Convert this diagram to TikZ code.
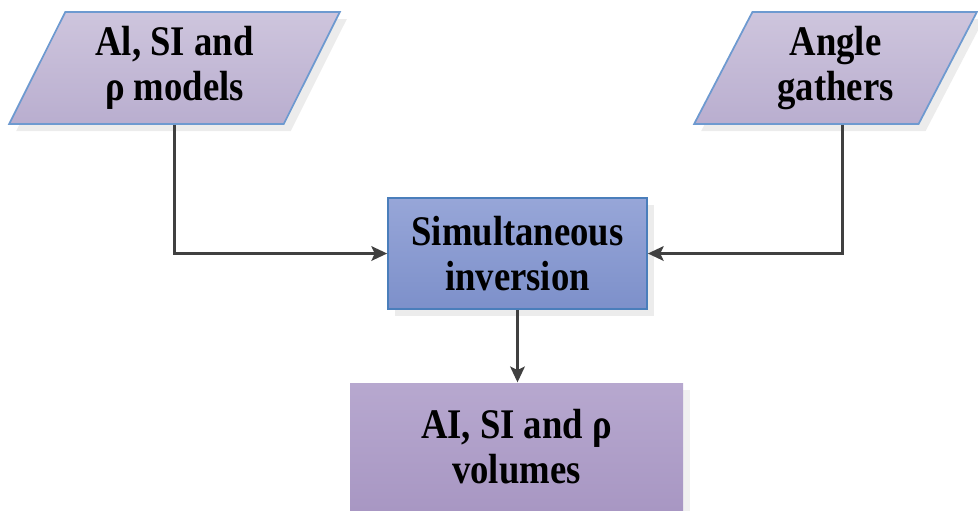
\documentclass[tikz,border=0pt]{standalone}
\usepackage{fontspec}
\setmainfont[FakeStretch=0.87]{Liberation Serif}
\usetikzlibrary{shapes.geometric,arrows.meta,shadows}

\definecolor{dataTop}{HTML}{CEC5DD}
\definecolor{dataBot}{HTML}{B9AECF}
\definecolor{dataEdge}{HTML}{6E9AD0}
\definecolor{procTop}{HTML}{97A6D8}
\definecolor{procBot}{HTML}{7D90CA}
\definecolor{procEdge}{HTML}{4A7EBB}
\definecolor{outTop}{HTML}{B7A8CF}
\definecolor{outBot}{HTML}{A897C3}
\definecolor{wire}{HTML}{404040}

\begin{document}
\begin{tikzpicture}[
  every node/.style={font=\fontsize{12}{12.8}\selectfont\bfseries, align=center},
  databox/.style={trapezium, trapezium left angle=64, trapezium right angle=116,
    trapezium stretches=true, minimum height=1.12cm, inner sep=0pt,
    draw=dataEdge, line width=0.5pt, top color=dataTop, bottom color=dataBot,
    drop shadow={opacity=0.15, shadow xshift=2pt, shadow yshift=-2pt}},
  procbox/.style={rectangle, minimum width=2.59cm, minimum height=1.11cm,
    draw=procEdge, line width=0.5pt, top color=procTop, bottom color=procBot,
    drop shadow={opacity=0.15, shadow xshift=2pt, shadow yshift=-2pt}},
  outbox/.style={rectangle, minimum width=3.33cm, minimum height=1.27cm,
    top color=outTop, bottom color=outBot,
    drop shadow={opacity=0.12, shadow xshift=2pt, shadow yshift=-2pt}},
  wireline/.style={draw=wire, line width=0.6pt, -{Stealth[length=4.5pt,width=4.2pt,inset=1pt]}}
]
  \useasboundingbox (0,0) rectangle (9.78,-5.10);

  \node[databox, minimum width=3.33cm] (mod) at (1.745,-0.68) {Al, SI and\\ρ models};
  \node[databox, minimum width=2.84cm] (ang) at (8.355,-0.68) {Angle\\gathers};
  \node[procbox] (inv) at (5.175,-2.535) {Simultaneous\\inversion};
  \node[outbox] (vol) at (5.165,-4.465) {AI, SI and ρ\\volumes};

  \draw[wireline] (mod.south) |- (inv.west);
  \draw[wireline] ([xshift=0.07cm]ang.south) |- (inv.east);
  \draw[wireline] (inv.south) -- (inv.south |- vol.north);
\end{tikzpicture}
\end{document}
